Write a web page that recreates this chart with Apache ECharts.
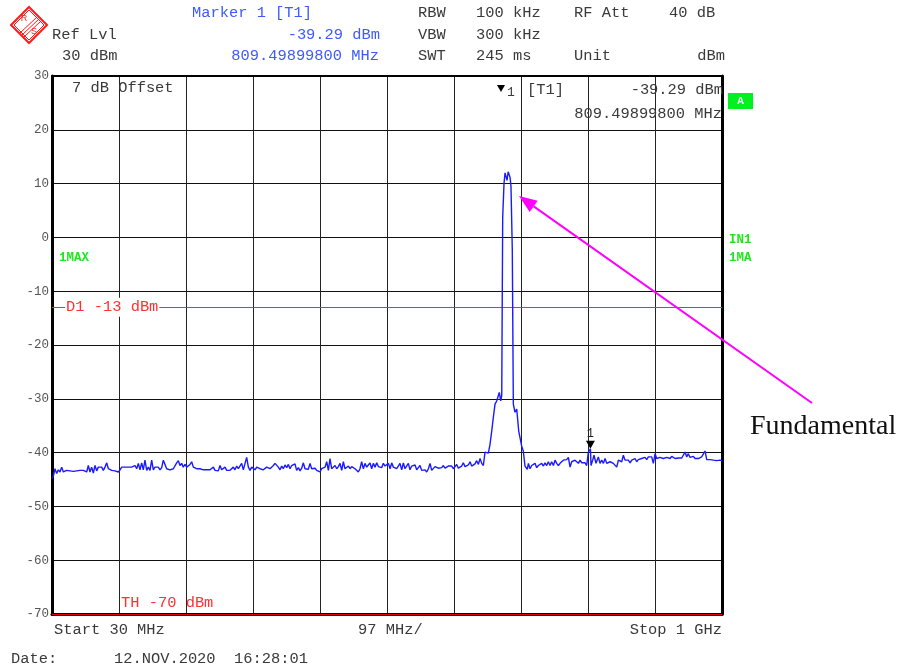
<!DOCTYPE html>
<html><head><meta charset="utf-8">
<script src="https://cdn.jsdelivr.net/npm/echarts@6/dist/echarts.min.js"></script>
<style>html,body{margin:0;padding:0;background:#fff}#c{width:902px;height:670px}</style>
</head><body><div id="c"></div>
<script>
// ---- axis settings ----
const startMHz = 30, stopMHz = 1000, divisions = 10;
const refLevel = 30, bottomLevel = -70, levelStep = 10;
const displayLine = -13, thresholdLine = -70;
const markerFreq = 809.49899800, markerLevel = -39.29;

// ---- trace [MHz, dBm] ----
const noiseLow = [[30.0,-44.8],[31.9,-44.4],[34.3,-43.0],[36.8,-43.9],[39.2,-43.2],[41.6,-43.6],[44.0,-42.7],[46.4,-43.6],[48.8,-43.3],[51.2,-43.3],[53.7,-43.2],[56.1,-43.4],[58.5,-43.3],[60.9,-43.5],[63.3,-43.3],[65.7,-43.4],[68.1,-43.4],[70.5,-43.3],[73.0,-43.4],[75.4,-43.3],[77.8,-43.2],[80.2,-43.6],[82.6,-42.4],[85.0,-43.6],[87.4,-42.7],[89.8,-43.8],[92.3,-42.4],[94.7,-43.4],[97.1,-42.7],[99.5,-43.0],[101.9,-42.7],[104.3,-43.3],[106.7,-42.7],[109.2,-41.9],[111.6,-43.0],[114.0,-42.7],[116.4,-43.3],[118.8,-43.2],[121.2,-43.4],[123.6,-43.3],[126.0,-43.6],[128.5,-43.2],[130.9,-42.7],[133.3,-43.0],[135.7,-42.7],[138.1,-43.0],[140.5,-42.7],[142.9,-43.0],[145.3,-42.7],[147.8,-42.8],[150.2,-42.4],[152.6,-43.0],[155.0,-42.0],[157.4,-43.2],[159.8,-41.9],[162.2,-43.2],[164.6,-41.4],[167.1,-43.3],[169.5,-42.7],[171.9,-43.3],[174.3,-41.4],[176.7,-43.2],[179.1,-42.7],[181.5,-43.0],[183.9,-42.7],[186.4,-43.2],[188.8,-42.8],[191.2,-41.4],[193.6,-42.2],[196.0,-43.0],[198.4,-42.7],[200.8,-43.2],[203.2,-43.3],[205.7,-43.0],[208.1,-42.7],[210.5,-41.9],[212.9,-41.5],[215.3,-42.4],[217.7,-42.0],[220.1,-42.7],[222.6,-42.2],[225.0,-42.7],[227.4,-43.0],[229.8,-42.2],[232.2,-41.7],[234.6,-42.7],[237.0,-42.7],[239.4,-43.0],[241.9,-43.0],[244.3,-43.0],[246.7,-43.0],[249.1,-43.2],[251.5,-43.0],[253.9,-43.2],[256.3,-43.0],[258.8,-43.2],[261.2,-43.3],[263.6,-42.7],[266.0,-43.3],[268.4,-43.0],[270.8,-43.4],[273.2,-42.4],[275.6,-43.2],[278.1,-43.4],[280.5,-42.7],[282.9,-43.3],[285.3,-43.6],[287.7,-43.3],[290.1,-43.2],[292.5,-42.7],[294.9,-43.2],[297.4,-42.5],[299.8,-43.0],[302.2,-42.7],[304.6,-42.0],[307.0,-43.2],[309.4,-43.0],[311.8,-40.9],[314.3,-42.7],[316.7,-43.3],[319.1,-42.7],[321.5,-43.0],[323.9,-43.2],[326.3,-42.7],[328.7,-43.0],[331.1,-43.0],[333.6,-42.7],[336.0,-43.2],[338.4,-43.0],[340.8,-42.7],[343.2,-42.5],[345.6,-43.0],[348.0,-42.7],[350.5,-42.4],[352.9,-42.0],[355.3,-41.7],[357.7,-42.7],
[360.1,-43.2],[362.5,-42.5],[364.9,-43.0],[367.3,-42.3],[369.8,-42.8],[372.2,-42.2],[374.6,-43.0],[377.0,-42.4],[379.4,-42.7],[381.8,-42.1],[384.2,-43.3],[386.7,-42.8],[389.1,-43.4],[391.5,-42.9],[393.9,-41.9],[396.3,-43.0],[398.7,-42.7],[401.1,-43.1],[403.5,-42.0],[406.0,-43.0],[408.4,-42.7],[410.8,-42.9],[413.2,-43.3],[415.6,-43.1],[418.0,-43.6],[420.4,-43.0],[422.9,-43.3],[425.3,-42.7],[427.7,-41.7],[430.1,-43.3],[432.5,-41.1],[434.9,-43.0],[437.3,-42.7],[439.8,-42.4],[442.2,-43.0],[444.6,-42.6],[447.0,-42.0],[449.4,-43.3],[451.8,-41.7],[454.2,-43.0],[456.6,-42.7],[459.1,-42.5],[461.5,-43.0],[463.9,-42.6],[466.3,-42.7],[468.7,-43.0],[471.1,-43.3],[473.5,-43.6],[475.9,-43.0],[478.3,-41.7],[480.8,-43.0],[483.2,-42.0],[485.6,-42.7],[488.0,-42.3],[490.4,-41.9],[492.8,-43.0],[495.2,-42.0],[497.7,-42.7],[500.1,-41.9],[502.5,-42.6],[504.9,-42.4],[507.3,-42.8],[509.7,-42.0],[512.1,-42.5],[514.5,-42.7],[517.0,-42.0],[519.4,-43.0],[521.8,-41.9],[524.2,-42.7],[526.6,-42.4],[529.0,-43.0],[531.4,-42.5],[533.8,-42.0],[536.3,-43.2],[538.7,-41.9],[541.1,-43.0],[543.5,-42.7],[545.9,-42.0],[548.3,-43.2],[550.7,-42.5],[553.2,-42.7],[555.6,-42.3],[558.0,-43.2],[560.4,-42.8],[562.8,-42.4],[565.2,-43.3],[567.6,-43.0],[570.0,-43.2],[572.5,-43.6],[574.9,-43.0],[577.3,-42.0],[579.7,-43.3],[582.1,-43.0],[584.5,-42.6],[586.9,-42.7],[589.4,-42.9],[591.8,-43.2],[594.2,-42.8],[596.6,-42.4],[599.0,-42.9],[601.4,-43.0],[603.8,-42.5],[606.2,-42.7],[608.7,-42.5],[611.1,-43.0],[613.5,-42.7],[615.9,-42.2],[618.3,-42.9],[620.7,-42.7],[623.1,-42.5],[625.5,-41.9],[628.0,-42.6],[630.4,-42.4],[632.8,-42.3],[635.2,-41.7],[637.6,-42.5],[640.0,-42.4],[642.4,-42.1],[644.8,-41.5],[647.3,-42.2],[649.7,-41.1],[652.1,-42.0],[654.5,-42.4]];

const carrier = [[656.9,-39.9],[659.3,-40.2],[661.7,-40.1],[664.1,-38.5],[666.6,-36.0],[668.9,-33.5],[671.4,-31.0],[673.8,-30.4],[676.2,-30.1],[677.6,-28.8],[679.6,-30.4],[681.1,-29.4],[682.5,3.8],[684.4,10.0],[685.9,12.0],[687.3,12.3],[688.8,10.6],[690.4,12.2],[692.0,12.0],[693.1,11.2],[694.5,9.5],[696.4,-2.4],[697.9,-31.0],[700.3,-32.5],[702.8,-31.9],[704.2,-31.6],[705.7,-36.0],[707.6,-36.3],[710.0,-38.8],[712.3,-39.7],[714.8,-42.5],[718.1,-43.1]];

const noiseHigh = [[719.7,-42.0],[722.1,-43.0],[724.5,-42.4],[726.9,-42.7],[729.3,-42.0],[731.7,-42.8],[734.1,-42.4],[736.6,-42.7],[739.0,-42.0],[741.4,-42.5],[743.8,-41.9],[746.2,-42.4],[748.6,-41.7],[751.0,-42.4],[753.4,-41.7],[755.9,-42.4],[758.3,-41.4],[760.7,-42.0],[763.1,-42.4],[765.5,-42.0],[767.9,-42.0],[770.3,-41.4],[772.8,-41.7],[775.2,-41.3],[777.6,-40.9],[780.0,-42.7],[782.4,-41.7],[784.8,-42.0],[787.2,-41.4],[789.6,-41.7],[792.1,-42.0],[794.5,-41.4],[796.9,-41.9],[799.3,-41.7],[801.7,-41.9],[804.1,-42.4],[806.5,-39.9],[809.5,-39.3],[810.4,-42.4],[812.8,-41.4],[814.7,-40.5],[817.6,-42.0],[821.0,-40.8],[823.4,-42.0],[825.8,-41.4],[828.3,-42.0],[830.7,-41.1],[833.1,-42.0],[835.5,-41.9],[837.9,-41.7],[840.3,-41.7],[842.7,-42.0],[845.1,-41.7],[847.6,-42.7],[850.0,-41.4],[852.4,-41.1],[854.8,-41.7],[857.2,-40.5],[859.6,-41.4],[862.0,-41.3],[864.4,-41.4],[866.9,-41.9],[869.3,-41.4],[871.7,-41.7],[874.1,-41.1],[876.5,-41.7],[878.9,-41.3],[881.3,-41.4],[883.7,-41.1],[886.2,-41.3],[888.6,-40.9],[891.0,-41.3],[893.4,-40.8],[895.8,-41.1],[898.2,-40.8],[900.6,-42.0],[903.1,-40.2],[905.5,-41.1],[907.9,-40.9],[910.3,-40.9],[912.7,-41.2],[915.1,-41.1],[917.6,-40.8],[920.0,-40.9],[922.4,-41.2],[924.8,-41.1],[927.2,-40.7],[929.6,-40.8],[932.0,-41.1],[934.4,-40.9],[936.8,-41.0],[939.2,-40.7],[941.7,-41.0],[944.1,-40.8],[946.5,-39.9],[948.9,-40.8],[951.3,-40.2],[953.7,-40.9],[956.1,-41.0],[958.6,-40.7],[961.0,-41.1],[963.4,-40.8],[965.8,-41.1],[968.2,-41.3],[970.6,-40.8],[973.0,-41.1],[975.4,-39.7],[977.9,-41.3],[980.3,-41.5],[982.7,-41.3],[985.1,-41.5],[987.5,-41.4],[990.0,-41.3],[992.4,-41.5],[994.8,-41.3],[997.2,-41.4],[1000.0,-41.5]];

// ---- header / annotation texts ----
const headerLabels = ['Marker 1 [T1]', 'RBW', '100 kHz', 'RF Att', '40 dB', 'Ref Lvl', 'VBW', '300 kHz', '30 dBm', 'SWT', '245 ms', 'Unit', 'dBm'];

const MONO = '"Liberation Mono","DejaVu Sans Mono",monospace';
const F15 = '15.4px ' + MONO;
const GREY = '#3a3a3a', BLUE = '#3d5afe', RED = '#ff3030', GREEN = '#1ee61e';

function txt(x, y, s, fill, font, align) {
  return {type:'text', x:x, y:y, z:100, silent:true,
    style:{text:s, fill:fill || GREY, font:font || F15, textAlign:align || 'left', textVerticalAlign:'middle', verticalAlign:'middle'}};
}

const trace = noiseLow.concat(carrier, noiseHigh);
const chart = echarts.init(document.getElementById('c'), null, {renderer:'canvas'});

// arrow geometry (annotation, pixel space)
const tail = [812, 403], tip = [519, 196];
const dx = tip[0]-tail[0], dy = tip[1]-tail[1], L = Math.sqrt(dx*dx+dy*dy);
const ux = dx/L, uy = dy/L, hl = 18, hw = 7;
const base = [tip[0]-ux*hl, tip[1]-uy*hl];

const graphics = [
  // R&S logo
  {type:'polygon', z:100, silent:true, shape:{points:[[29,7],[47,25],[29,43],[11,25]]}, style:{fill:'none', stroke:'#ff1a1a', lineWidth:2}},
  {type:'polygon', z:100, silent:true, shape:{points:[[29,10],[44,25],[29,40],[14,25]]}, style:{fill:'none', stroke:'#ff1a1a', lineWidth:1}},
  {type:'line', z:100, silent:true, shape:{x1:20,y1:33,x2:37,y2:17}, style:{stroke:'#ff1a1a', lineWidth:1}},
  {type:'line', z:100, silent:true, shape:{x1:22,y1:35,x2:39,y2:19}, style:{stroke:'#ff1a1a', lineWidth:1}},
  {type:'line', z:100, silent:true, shape:{x1:24,y1:37,x2:41,y2:21}, style:{stroke:'#ff1a1a', lineWidth:1}},
  txt(24, 19, 'R', '#ff1a1a', '9px "Liberation Sans"', 'center'),
  txt(34, 32, 'S', '#ff1a1a', '9px "Liberation Sans"', 'center'),
  // header
  txt(192, 13, headerLabels[0], BLUE),
  txt(418, 13, headerLabels[1]), txt(476, 13, headerLabels[2]), txt(574, 13, headerLabels[3]), txt(669, 13, headerLabels[4]),
  txt(52, 35, headerLabels[5]), txt(380, 35, markerLevel.toFixed(2) + ' dBm', BLUE, F15, 'right'),
  txt(418, 35, headerLabels[6]), txt(476, 35, headerLabels[7]),
  txt(62, 56, headerLabels[8]), txt(379, 56, markerFreq.toFixed(8) + ' MHz', BLUE, F15, 'right'),
  txt(418, 56, headerLabels[9]), txt(476, 56, headerLabels[10]), txt(574, 56, headerLabels[11]), txt(725, 56, headerLabels[12], GREY, F15, 'right'),
  // in-plot marker readout
  txt(72, 88, '7 dB Offset'),
  {type:'polygon', z:100, silent:true, shape:{points:[[497,85],[505,85],[501,92]]}, style:{fill:'#000'}},
  txt(507, 93, '1', GREY, '13px ' + MONO),
  txt(527, 90, '[T1]'),
  txt(723, 90, markerLevel.toFixed(2) + ' dBm', GREY, F15, 'right'),
  txt(722, 114, markerFreq.toFixed(8) + ' MHz', GREY, F15, 'right'),
  // side indicators
  {type:'rect', z:100, silent:true, shape:{x:728, y:93, width:25, height:16}, style:{fill:'#00f020'}},
  txt(740.5, 101.5, 'A', '#fff', 'bold 11px ' + MONO, 'center'),
  txt(59, 258, '1MAX', GREEN, 'bold 12.5px ' + MONO),
  txt(729, 240, 'IN1', GREEN, 'bold 12.5px ' + MONO),
  txt(729, 258, '1MA', GREEN, 'bold 12.5px ' + MONO),
  // footer
  txt(54, 630, 'Start ' + startMHz + ' MHz'),
  txt(358, 630, ((stopMHz - startMHz) / divisions) + ' MHz/'),
  txt(722, 630, 'Stop 1 GHz', GREY, F15, 'right'),
  txt(11, 659, 'Date:'),
  txt(114, 659, '12.NOV.2020  16:28:01'),
  // annotation
  {type:'line', z:110, silent:true, shape:{x1:tail[0], y1:tail[1], x2:base[0], y2:base[1]}, style:{stroke:'#ff00ff', lineWidth:2}},
  {type:'polygon', z:110, silent:true, shape:{points:[tip, [base[0]-uy*hw, base[1]+ux*hw], [base[0]+uy*hw, base[1]-ux*hw]]}, style:{fill:'#ff00ff'}},
  txt(750, 427, 'Fundamental', '#111', '28px "Liberation Serif","DejaVu Serif",serif')
];

const option = {
  animation: false,
  backgroundColor: '#fff',
  grid: {left:52, right:180, top:76, bottom:56, containLabel:false, outerBoundsMode:'none'},
  xAxis: [
    {type:'value', min:startMHz, max:stopMHz, position:'bottom',
     axisLine:{show:true, onZero:false, lineStyle:{color:'#000', width:3}},
     axisTick:{show:false}, axisLabel:{show:false}, splitLine:{show:false}},
    {type:'value', min:0, max:divisions, interval:1, position:'top',
     axisLine:{show:true, onZero:false, lineStyle:{color:'#000', width:2}},
     axisTick:{show:false}, axisLabel:{show:false},
     splitLine:{show:true, lineStyle:{color:'#222', width:1}}}
  ],
  yAxis: [
    {type:'value', min:bottomLevel, max:refLevel, interval:levelStep, position:'left',
     axisLine:{show:true, onZero:false, lineStyle:{color:'#000', width:3}},
     axisTick:{show:false},
     axisLabel:{color:'#555', fontFamily:MONO, fontSize:12.5, margin:3},
     splitLine:{show:true, lineStyle:{color:'#111', width:1}}},
    {type:'value', min:bottomLevel, max:refLevel, interval:levelStep, position:'right',
     axisLine:{show:true, onZero:false, lineStyle:{color:'#000', width:3}},
     axisTick:{show:false}, axisLabel:{show:false}, splitLine:{show:false}}
  ],
  series: [{
    type:'line', name:'1MAX', xAxisIndex:0, yAxisIndex:0, data:trace,
    showSymbol:false, symbol:'none', z:5,
    lineStyle:{color:'#1a1aff', width:1.4},
    markLine:{silent:true, symbol:'none', animation:false, data:[
      {yAxis:displayLine, lineStyle:{color:'#ff2a2a', width:1, type:'solid'},
       label:{show:true, position:'insideStart', distance:[13,0], formatter:'D1 ' + displayLine + ' dBm',
              color:RED, fontFamily:MONO, fontSize:15.4, backgroundColor:'#fff', padding:[2,1]}},
      {yAxis:thresholdLine, lineStyle:{color:'#e80000', width:1, type:'solid'},
       label:{show:true, position:'insideStartTop', distance:[69,4], formatter:'TH ' + thresholdLine + ' dBm',
              color:RED, fontFamily:MONO, fontSize:15.4}}
    ]},
    markPoint:{silent:true, animation:false, data:[
      {coord:[markerFreq, markerLevel], symbol:'triangle', symbolRotate:180, symbolSize:[9,8], symbolOffset:[0,-4],
       itemStyle:{color:'#000'},
       label:{show:true, position:'top', distance:1, formatter:'1', color:'#222', fontFamily:MONO, fontSize:12}}
    ]}
  }],
  graphic: graphics
};
chart.setOption(option);
</script>
</body></html>
